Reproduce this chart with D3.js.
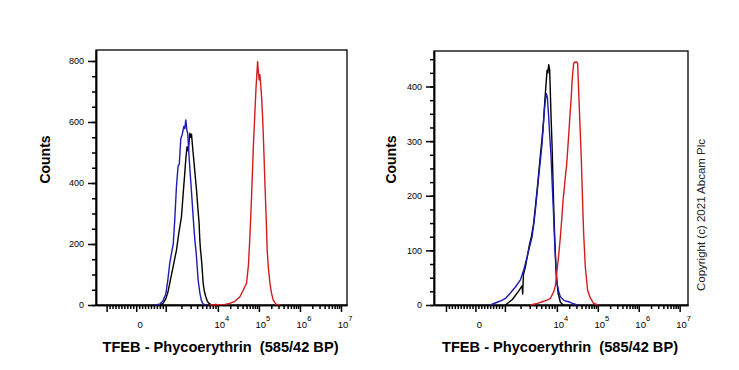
<!DOCTYPE html>
<meta charset="utf-8">
<style>
body { margin: 0; background: #fff; }
svg { font-family: "Liberation Sans", Arial, sans-serif; }
.axis path, .axis line { stroke: #000; stroke-width: 1.5px; }
.axis text { font-size: 9px; fill: #000; }
.xaxis text { font-size: 9.5px; }
.frame { fill: none; stroke: #000; stroke-width: 1.3px; }
.curve { fill: none; stroke-width: 1.4px; stroke-linejoin: round; }
.title { font-size: 14px; font-weight: bold; fill: #000; white-space: pre; }
.xtitle { font-size: 14.6px; }
.copy { font-size: 11.5px; fill: #222; }
</style>
<body>
<script src="https://d3js.org/d3.v7.min.js"></script>
<script>

// intensity / count pairs
var leftBlack = [[797,0],[908,5],[1000,20],[1093,40],[1194,72],[1364,120],[1607,180],[1778,235],[2004,290],[2172,370],[2320,433],[2456,490],[2570,519],[2709,505],[2895,563],[3026,550],[3121,560],[3305,510],[3455,475],[3692,420],[3894,377],[4125,320],[4367,268],[4500,215],[4647,180],[4780,160],[4923,135],[5216,72],[5500,45],[5875,27],[6280,12],[6800,5],[7670,0],[9000,2],[11000,0]];
var leftBlue = [[627,0],[797,3],[898,12],[1000,35],[1093,80],[1194,137],[1305,175],[1394,200],[1490,280],[1607,390],[1724,455],[1820,462],[1943,545],[2077,560],[2219,585],[2320,578],[2424,607],[2534,575],[2648,560],[2768,500],[2895,450],[3093,380],[3350,290],[3612,215],[3860,165],[4180,82],[4508,40],[4818,15],[5216,3],[5875,0]];
var leftRed = [[7020,0],[14800,2],[19600,5],[26000,12],[34400,27],[41900,50],[50100,72],[55500,130],[60300,224],[66400,360],[72600,508],[78500,610],[84500,705],[89400,760],[93000,798],[97300,760],[101700,738],[105800,755],[110000,727],[116400,680],[123000,617],[132400,500],[140000,400],[150000,290],[159000,180],[170500,120],[185500,72],[202000,40],[223000,16],[260000,3],[325000,0]];

var rightBlack = [[1022,0],[1394,10],[1820,25],[2141,35],[2200,20],[2269,55],[2480,70],[2709,90],[2959,110],[3234,125],[3580,150],[3860,180],[4160,210],[4508,245],[4818,275],[5192,305],[5572,340],[5875,375],[6140,400],[6480,430],[6714,425],[6953,440],[7270,430],[7733,344],[8090,290],[8450,223],[8750,170],[9070,125],[9440,85],[9780,52],[10700,22],[12170,5],[14400,0]];
var rightBlue = [[508,0],[736,5],[915,9],[1022,12],[1276,22],[1592,33],[1987,46],[2319,65],[2673,88],[2959,105],[3335,125],[3610,150],[3860,174],[4160,205],[4467,235],[4818,265],[5192,296],[5500,330],[5750,357],[6010,375],[6280,387],[6566,380],[6953,344],[7335,305],[7733,271],[8190,215],[8675,161],[9070,115],[9480,77],[10110,40],[11060,25],[12170,15],[15200,8],[19400,6],[23900,3],[31600,0]];
var rightRed = [[3093,0],[4217,3],[5260,6],[6480,9],[7500,12],[8675,24],[9355,35],[10110,64],[11190,95],[12170,125],[13240,160],[14160,192],[15240,215],[16110,235],[17250,255],[18350,283],[19400,310],[20500,338],[22200,375],[23900,417],[25700,442],[27200,445],[28700,444],[30400,445],[32200,442],[34000,393],[35800,350],[37400,314],[39600,265],[41200,223],[43100,175],[45100,131],[49500,70],[56400,27],[65600,13],[79000,3],[103000,0]];

// tick values
var xMajor = [-1000, 0, 1000, 1e4, 1e5, 1e6, 1e7];
var xLabelled = [0, 1e4, 1e5, 1e6, 1e7];
var leftYMajor = [0, 200, 400, 600, 800];
var rightYMajor = [0, 100, 200, 300, 400];

var xTitle = "TFEB - Phycoerythrin  (585/42 BP)";
var yTitle = "Counts";
var copyright = "Copyright (c) 2021 Abcam Plc";

var colors = {black: "#000000", blue: "#1c1cb4", red: "#d41c1c"};

// biexponential-like transform (decade units)
function tf(v) {
  var a = Math.abs(v), s = v < 0 ? -1 : 1;
  if (a <= 1000) return s * 0.72 * a / 1000;
  if (a <= 1e4) return s * (0.72 + 1.27 * Math.log10(a / 1000));
  return s * (1.99 + Math.log10(a / 1e4));
}

function biexScale(domain, range) {
  var lin = d3.scaleLinear().domain(domain.map(tf)).range(range);
  function s(v) { return lin(tf(v)); }
  s.domain = function() { return domain; };
  s.range = function() { return lin.range(); };
  s.copy = function() { return biexScale(domain, range); };
  return s;
}

// minor x ticks
var xMinor = [];
d3.range(100, 1000, 100).forEach(function(v) { xMinor.push(v, -v); });
[1e3, 1e4, 1e5, 1e6].forEach(function(p) {
  d3.range(2, 10).forEach(function(m) { xMinor.push(m * p); });
});

var svg = d3.select("body").append("svg")
    .attr("width", 739)
    .attr("height", 370);

var bottom = 305;

function panel(opt) {
  var x = biexScale(opt.xDomain, [opt.left, opt.right]);
  var y = d3.scaleLinear().domain([0, opt.yMax]).range([bottom, opt.top]);
  var g = svg.append("g");

  g.append("rect").attr("class", "frame")
      .attr("x", opt.left).attr("y", opt.top)
      .attr("width", opt.right - opt.left).attr("height", bottom - opt.top);

  // y axis
  g.append("g").attr("class", "axis")
      .attr("transform", "translate(" + opt.left + ",0)")
      .call(d3.axisLeft(y).tickValues(d3.range(0, opt.yMax, opt.yMinorStep))
        .tickSize(4).tickSizeOuter(0).tickFormat(""));
  g.append("g").attr("class", "axis")
      .attr("transform", "translate(" + opt.left + ",0)")
      .call(d3.axisLeft(y).tickValues(opt.yMajor).tickSize(8).tickSizeOuter(0).tickPadding(4));

  // x axis
  var xMinorIn = xMinor.filter(function(v) { return v > opt.xDomain[0] && v < opt.xDomain[1]; });
  g.append("g").attr("class", "axis")
      .attr("transform", "translate(0," + bottom + ")")
      .call(d3.axisBottom(x).tickValues(xMinorIn).tickSize(4).tickSizeOuter(0).tickFormat(""));
  var xa = g.append("g").attr("class", "axis xaxis")
      .attr("transform", "translate(0," + bottom + ")")
      .call(d3.axisBottom(x).tickValues(xMajor).tickSize(7).tickSizeOuter(0)
        .tickFormat(function(d) { return xLabelled.indexOf(d) < 0 ? "" : d; }));
  xa.selectAll(".tick text").each(function(d) {
    var t = d3.select(this).text("").attr("y", 22.5).attr("dy", 0).attr("dx", 3.5);
    if (xLabelled.indexOf(d) < 0) return;
    if (d === 0) { t.text("0"); return; }
    t.append("tspan").text("10");
    t.append("tspan").attr("dy", -7).style("font-size", "7.5px").text(Math.round(Math.log10(d)));
  });

  var line = d3.line()
      .x(function(d) { return x(d[0]); })
      .y(function(d) { return y(d[1]); });

  [["black", opt.black], ["blue", opt.blue], ["red", opt.red]].forEach(function(s) {
    g.append("path")
        .datum(s[1])
        .attr("class", "curve")
        .attr("stroke", colors[s[0]])
        .attr("d", line);
  });

  g.append("text").attr("class", "title xtitle")
      .attr("xml:space", "preserve")
      .attr("text-anchor", "middle")
      .attr("x", (opt.left + opt.right) / 2 - 1)
      .attr("y", 351.5)
      .text(xTitle);

  g.append("text").attr("class", "title")
      .attr("text-anchor", "middle")
      .attr("transform", "translate(" + opt.yTitleX + ",159.5) rotate(-90)")
      .text(yTitle);
}

panel({left: 96, right: 347, top: 50, xDomain: [-1600, 1.4e7], yMax: 836,
       yMajor: leftYMajor, yMinorStep: 50, yTitleX: 50,
       black: leftBlack, blue: leftBlue, red: leftRed});

panel({left: 434, right: 688, top: 51, xDomain: [-1700, 1.6e7], yMax: 465,
       yMajor: rightYMajor, yMinorStep: 25, yTitleX: 395.5,
       black: rightBlack, blue: rightBlue, red: rightRed});

svg.append("text").attr("class", "copy")
    .attr("text-anchor", "middle")
    .attr("transform", "translate(705,215) rotate(-90)")
    .text(copyright);

</script>
</body>
